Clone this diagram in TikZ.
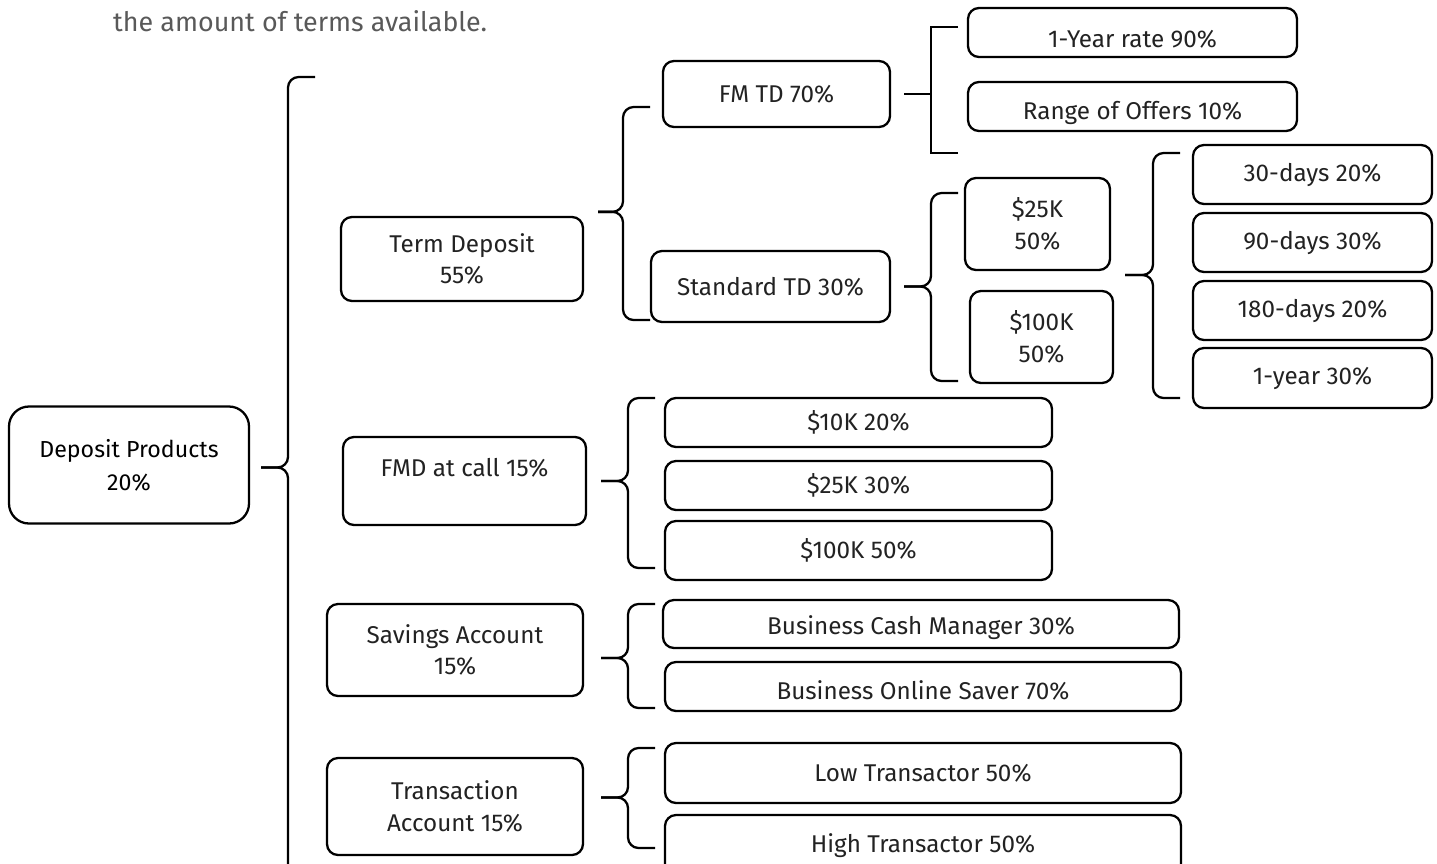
\documentclass[tikz,border=0pt]{standalone}
\usepackage{fontspec}
\setmainfont{Fira Sans}
\definecolor{ink}{HTML}{222222}
\definecolor{note}{HTML}{595959}
\newcommand{\curl}[4][rounded corners=6pt]{%
  \draw[brace,#1] (#3) -- ++(-27,0) |- (#2);
  \draw[brace,#1] (#4) -- ++(-27,0) |- (#2);}
\begin{document}
\begin{tikzpicture}[x=0.02cm,y=-0.02cm,
  box/.style={draw,line width=1.3pt,rounded corners=0.22cm,align=center,text=ink,
    font=\fontsize{13.8}{18}\selectfont,inner sep=2pt},
  sz/.style 2 args={minimum width=#1*0.02cm,minimum height=#2*0.02cm},
  brace/.style={draw,line width=1.3pt}]
\useasboundingbox (0,0) rectangle (1437,863);
\clip (0,0) rectangle (1437,863);
\node[anchor=base west,text=note,font=\fontsize{15.3}{18}\selectfont] (cap) at (107,31) {the amount of terms available.};
\node[box,sz={240}{117},rounded corners=0.4cm,text=black,font=\fontsize{13.2}{19}\selectfont] (dp) at (129,465) {Deposit Products\\20\%};
\node[box,sz={242}{84}] (td) at (462,259) {Term Deposit\\55\%};
\node[box,sz={227}{66}] (fm) at (776.5,94) {FM TD 70\%};
\node[box,sz={239}{71}] (std) at (770.5,286.5) {Standard TD 30\%};
\node[box,sz={329}{49},text height=18pt] (yr) at (1132.5,32.5) {1-Year rate 90\%};
\node[box,sz={329}{49},text height=18pt] (rng) at (1132.5,106.5) {Range of Offers 10\%};
\node[box,sz={145}{92}] (k25) at (1037.5,224) {\$25K\\50\%};
\node[box,sz={143}{92}] (k100) at (1041.5,337) {\$100K\\50\%};
\node[box,sz={239}{59}] (d30) at (1312.5,174.5) {30-days 20\%};
\node[box,sz={239}{59}] (d90) at (1312.5,242.5) {90-days 30\%};
\node[box,sz={239}{59}] (d180) at (1312.5,310.5) {180-days 20\%};
\node[box,sz={239}{60}] (d1y) at (1312.5,378) {1-year 30\%};
\node[box,sz={243}{88},text depth=15pt] (fmd) at (464.5,481) {FMD at call 15\%};
\node[box,sz={387}{49}] (c10) at (858.5,422.5) {\$10K 20\%};
\node[box,sz={387}{49}] (c25) at (858.5,485.5) {\$25K 30\%};
\node[box,sz={387}{59}] (c100) at (858.5,550.5) {\$100K 50\%};
\node[box,sz={256}{92}] (sav) at (455,650) {Savings Account\\15\%};
\node[box,sz={516}{48},text height=15pt] (bcm) at (921,624) {Business Cash Manager 30\%};
\node[box,sz={516}{49},text height=15pt] (bos) at (923,686.5) {Business Online Saver 70\%};
\node[box,sz={256}{97}] (tra) at (455,806.5) {Transaction\\Account 15\%};
\node[box,sz={516}{60}] (low) at (923,773) {Low Transactor 50\%};
\node[box,sz={516}{62}] (high) at (923,846) {High Transactor 50\%};
\coordinate (amt) at (1112,275);
\coordinate (dpT) at (315,77);
\coordinate (dpB) at (315,900);
\coordinate (tdT) at (650,107);
\coordinate (tdB) at (650,320);
\coordinate (fmT) at (958,27);
\coordinate (fmB) at (958,153);
\coordinate (stT) at (958,193);
\coordinate (stB) at (958,381);
\coordinate (dyT) at (1180,153);
\coordinate (dyB) at (1180,398);
\coordinate (fdT) at (655,398);
\coordinate (fdB) at (655,568);
\coordinate (svT) at (655,604);
\coordinate (svB) at (655,708);
\coordinate (trT) at (655,748);
\coordinate (trB) at (655,848);
\curl{[xshift=0.22cm,yshift=-0.05cm]dp.east}{dpT}{dpB}
\curl{[xshift=0.28cm,yshift=0.08cm]td.north east}{tdT}{tdB}
\curl[sharp corners]{[xshift=0.26cm]fm.east}{fmT}{fmB}
\curl{[xshift=0.26cm]std.east}{stT}{stB}
\curl{[xshift=0.26cm]amt}{dyT}{dyB}
\curl{[xshift=0.28cm]fmd.east}{fdT}{fdB}
\curl{[xshift=0.34cm,yshift=-0.16cm]sav.east}{svT}{svB}
\curl{[xshift=0.34cm,yshift=0.18cm]tra.east}{trT}{trB}
\end{tikzpicture}
\end{document}
